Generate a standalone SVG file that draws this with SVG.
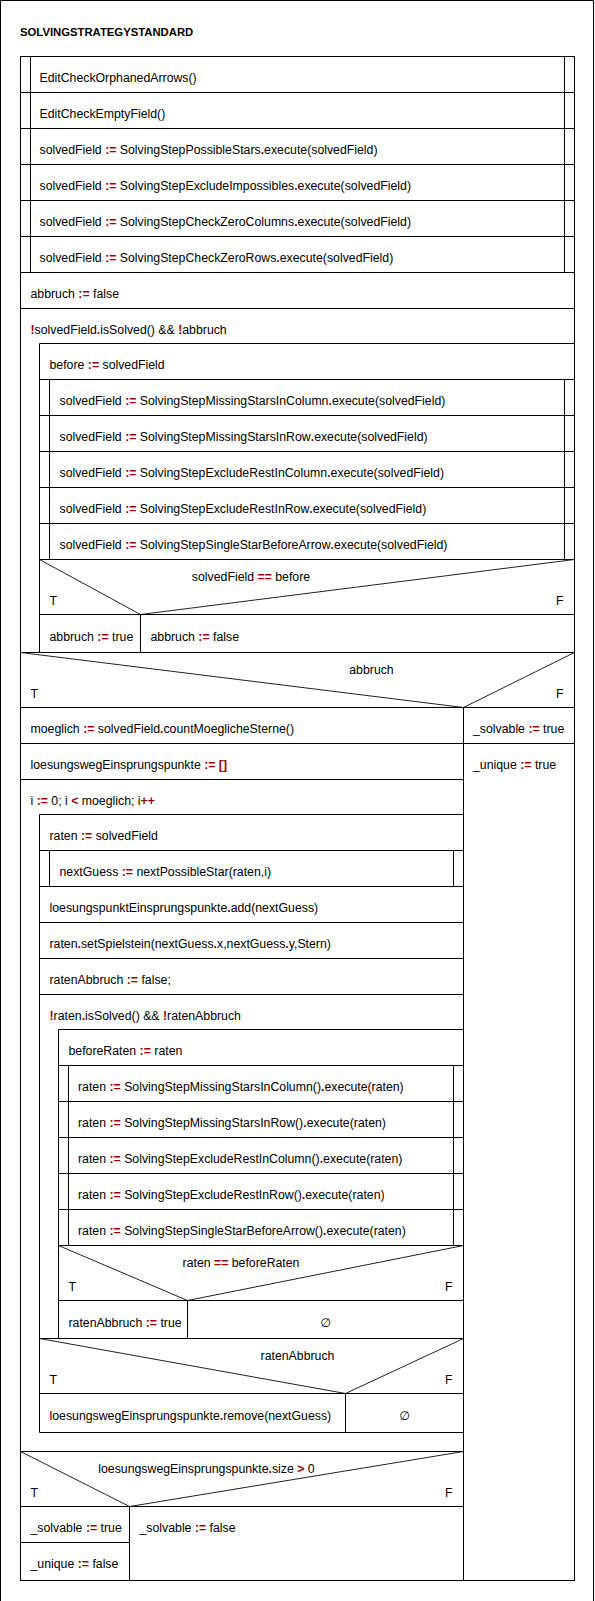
<svg xmlns="http://www.w3.org/2000/svg" width="595" height="1601" viewBox="0 0 595 1601">
<style>
text{font-family:"Liberation Sans",Arial,"DejaVu Sans",sans-serif;font-size:12.3px;fill:#000}
.title{font-size:11.3px;font-weight:bold}
.o{fill:#990000;font-weight:bold}
.e{font-family:"DejaVu Sans",sans-serif;text-anchor:middle}
.m{text-anchor:middle}
.f{text-anchor:end}
.s{fill:none;stroke:#000;stroke-width:1}
.d{fill:none;stroke:#222;stroke-width:1}
</style>
<rect width="595" height="1601" fill="#fff"/>
<g id="frame"><path class="s" d="M0.5,1601V0.5H593.5V1601"/></g>
<g id="title"><text class="title" x="20" y="36">SOLVINGSTRATEGYSTANDARD</text></g>
<g id="main"><rect class="s" x="20.5" y="56.5" width="554" height="1524"/></g>

<g id="calls1">
<path class="s" d="M30.5,56.5V272.5M564.5,56.5V272.5M20.5,92.5H574.5M20.5,128.5H574.5M20.5,164.5H574.5M20.5,200.5H574.5M20.5,236.5H574.5M20.5,272.5H574.5"/>
<text x="39.5" y="81.5">EditCheckOrphanedArrows()</text>
<text x="39.5" y="117.5">EditCheckEmptyField()</text>
<text x="39.5" y="153.5">solvedField <tspan class="o">:=</tspan> SolvingStepPossibleStars<tspan class="o">.</tspan>execute(solvedField)</text>
<text x="39.5" y="189.5">solvedField <tspan class="o">:=</tspan> SolvingStepExcludeImpossibles<tspan class="o">.</tspan>execute(solvedField)</text>
<text x="39.5" y="225.5">solvedField <tspan class="o">:=</tspan> SolvingStepCheckZeroColumns<tspan class="o">.</tspan>execute(solvedField)</text>
<text x="39.5" y="261.5">solvedField <tspan class="o">:=</tspan> SolvingStepCheckZeroRows<tspan class="o">.</tspan>execute(solvedField)</text>
</g>

<g id="abbruchInit">
<path class="s" d="M20.5,308.5H574.5"/>
<text x="30.5" y="297.5">abbruch <tspan class="o">:=</tspan> false</text>
</g>

<g id="whileOuter">
<path class="s" d="M39.5,343.5H574.5M39.5,343.5V652.5"/>
<text x="30.5" y="333.5"><tspan class="o">!</tspan>solvedField<tspan class="o">.</tspan>isSolved() &amp;&amp; <tspan class="o">!</tspan>abbruch</text>
<text x="49.5" y="368.5">before <tspan class="o">:=</tspan> solvedField</text>
<path class="s" d="M49.5,379.5V559.5M564.5,379.5V559.5M39.5,379.5H574.5M39.5,415.5H574.5M39.5,451.5H574.5M39.5,487.5H574.5M39.5,523.5H574.5M39.5,559.5H574.5"/>
<text x="59.5" y="404.5">solvedField <tspan class="o">:=</tspan> SolvingStepMissingStarsInColumn<tspan class="o">.</tspan>execute(solvedField)</text>
<text x="59.5" y="440.5">solvedField <tspan class="o">:=</tspan> SolvingStepMissingStarsInRow<tspan class="o">.</tspan>execute(solvedField)</text>
<text x="59.5" y="476.5">solvedField <tspan class="o">:=</tspan> SolvingStepExcludeRestInColumn<tspan class="o">.</tspan>execute(solvedField)</text>
<text x="59.5" y="512.5">solvedField <tspan class="o">:=</tspan> SolvingStepExcludeRestInRow<tspan class="o">.</tspan>execute(solvedField)</text>
<text x="59.5" y="548.5">solvedField <tspan class="o">:=</tspan> SolvingStepSingleStarBeforeArrow<tspan class="o">.</tspan>execute(solvedField)</text>
</g>

<g id="ifBefore">
<path class="d" d="M39.5,559.5L140.5,614.5L574.5,559.5"/>
<path class="s" d="M39.5,614.5H574.5M140.5,614.5V652.5M20.5,652.5H574.5"/>
<text class="m" x="251" y="581">solvedField <tspan class="o">==</tspan> before</text>
<text x="49.5" y="605">T</text>
<text class="f" x="563.5" y="605">F</text>
<text x="49.5" y="640.5">abbruch <tspan class="o">:=</tspan> true</text>
<text x="150.5" y="640.5">abbruch <tspan class="o">:=</tspan> false</text>
</g>

<g id="ifAbbruch">
<path class="d" d="M20.5,652.5L463.5,707.5L574.5,652.5"/>
<path class="s" d="M20.5,707.5H574.5M463.5,707.5V1580.5M463.5,743.5H574.5"/>
<text class="m" x="371.5" y="674">abbruch</text>
<text x="30.5" y="698">T</text>
<text class="f" x="563.5" y="698">F</text>
<text x="473" y="732.5">_solvable <tspan class="o">:=</tspan> true</text>
<text x="473" y="768.5">_unique <tspan class="o">:=</tspan> true</text>
</g>

<g id="moeglich">
<path class="s" d="M20.5,743.5H463.5"/>
<text x="30.5" y="732.5">moeglich <tspan class="o">:=</tspan> solvedField<tspan class="o">.</tspan>countMoeglicheSterne()</text>
</g>
<g id="loesungsweg">
<path class="s" d="M20.5,779.5H463.5"/>
<text x="30.5" y="768.5">loesungswegEinsprungspunkte <tspan class="o">:=</tspan> <tspan class="o">[]</tspan></text>
</g>

<g id="forLoop">
<path class="s" d="M39.5,814.5H463.5M39.5,814.5V1432.5M39.5,1432.5H463.5"/>
<text x="30.5" y="804.5">i <tspan class="o">:=</tspan> 0; i <tspan class="o">&lt;</tspan> moeglich; i<tspan class="o">++</tspan></text>
<path class="s" d="M39.5,850.5H463.5M39.5,886.5H463.5M39.5,922.5H463.5M39.5,958.5H463.5M39.5,994.5H463.5M49.5,850.5V886.5M453.5,850.5V886.5"/>
<text x="49.5" y="839.5">raten <tspan class="o">:=</tspan> solvedField</text>
<text x="59.5" y="875.5">nextGuess <tspan class="o">:=</tspan> nextPossibleStar(raten,i)</text>
<text x="49.5" y="911.5">loesungspunktEinsprungspunkte<tspan class="o">.</tspan>add(nextGuess)</text>
<text x="49.5" y="947.5">raten<tspan class="o">.</tspan>setSpielstein(nextGuess<tspan class="o">.</tspan>x,nextGuess<tspan class="o">.</tspan>y,Stern)</text>
<text x="49.5" y="983.5">ratenAbbruch <tspan class="o">:=</tspan> false;</text>
</g>

<g id="whileInner">
<path class="s" d="M58.5,1029.5H463.5M58.5,1029.5V1338.5"/>
<text x="49.5" y="1019.5"><tspan class="o">!</tspan>raten<tspan class="o">.</tspan>isSolved() &amp;&amp; <tspan class="o">!</tspan>ratenAbbruch</text>
<text x="68.5" y="1054.5">beforeRaten <tspan class="o">:=</tspan> raten</text>
<path class="s" d="M68.5,1065.5V1245.5M453.5,1065.5V1245.5M58.5,1065.5H463.5M58.5,1101.5H463.5M58.5,1137.5H463.5M58.5,1173.5H463.5M58.5,1209.5H463.5M58.5,1245.5H463.5"/>
<text x="78" y="1090.5">raten <tspan class="o">:=</tspan> SolvingStepMissingStarsInColumn()<tspan class="o">.</tspan>execute(raten)</text>
<text x="78" y="1126.5">raten <tspan class="o">:=</tspan> SolvingStepMissingStarsInRow()<tspan class="o">.</tspan>execute(raten)</text>
<text x="78" y="1162.5">raten <tspan class="o">:=</tspan> SolvingStepExcludeRestInColumn()<tspan class="o">.</tspan>execute(raten)</text>
<text x="78" y="1198.5">raten <tspan class="o">:=</tspan> SolvingStepExcludeRestInRow()<tspan class="o">.</tspan>execute(raten)</text>
<text x="78" y="1234.5">raten <tspan class="o">:=</tspan> SolvingStepSingleStarBeforeArrow()<tspan class="o">.</tspan>execute(raten)</text>
</g>

<g id="ifBeforeRaten">
<path class="d" d="M58.5,1245.5L187.5,1300.5L463.5,1245.5"/>
<path class="s" d="M58.5,1300.5H463.5M187.5,1300.5V1338.5M39.5,1338.5H463.5"/>
<text class="m" x="241" y="1267">raten <tspan class="o">==</tspan> beforeRaten</text>
<text x="68.5" y="1291">T</text>
<text class="f" x="452.5" y="1291">F</text>
<text x="68.5" y="1326.5">ratenAbbruch <tspan class="o">:=</tspan> true</text>
<text class="e" x="325.5" y="1326.5">∅</text>
</g>

<g id="ifRatenAbbruch">
<path class="d" d="M39.5,1338.5L345.5,1393.5L463.5,1338.5"/>
<path class="s" d="M39.5,1393.5H463.5M345.5,1393.5V1432.5"/>
<text class="m" x="297.5" y="1360">ratenAbbruch</text>
<text x="49.5" y="1384">T</text>
<text class="f" x="452.5" y="1384">F</text>
<text x="49.5" y="1419.5">loesungswegEinsprungspunkte<tspan class="o">.</tspan>remove(nextGuess)</text>
<text class="e" x="404.5" y="1419.5">∅</text>
</g>

<g id="ifSize">
<path class="s" d="M20.5,1451.5H463.5M20.5,1506.5H463.5M129.5,1506.5V1580.5M20.5,1542.5H129.5"/>
<path class="d" d="M20.5,1451.5L129.5,1506.5L463.5,1451.5"/>
<text class="m" x="206.5" y="1473">loesungswegEinsprungspunkte<tspan class="o">.</tspan>size <tspan class="o">&gt;</tspan> 0</text>
<text x="30.5" y="1497">T</text>
<text class="f" x="452.5" y="1497">F</text>
<text x="30.5" y="1532">_solvable <tspan class="o">:=</tspan> true</text>
<text x="30.5" y="1568">_unique <tspan class="o">:=</tspan> false</text>
<text x="139.5" y="1532">_solvable <tspan class="o">:=</tspan> false</text>
</g>
<g id="connectors"/>
</svg>
